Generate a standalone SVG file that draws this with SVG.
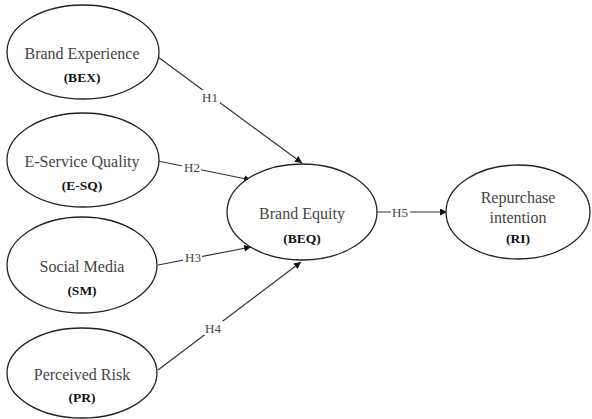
<svg xmlns="http://www.w3.org/2000/svg" width="592" height="419" viewBox="0 0 592 419">
<style>
.node ellipse{fill:#fff;stroke:#222;stroke-width:1.3}
.edge line{stroke:#333;stroke-width:1.2}
.lbg{fill:#fff}
</style>
<defs>
<marker id="ah" viewBox="0 0 10 10" refX="10" refY="5" markerWidth="7" markerHeight="7" markerUnits="userSpaceOnUse" orient="auto">
<path d="M0,0 L10,5 L0,10 z" fill="#111"/>
</marker>
</defs>
<rect width="592" height="419" fill="#fff"/>
<g id="connectors" class="edge">
<line x1="158" y1="57" x2="302" y2="163" marker-end="url(#ah)"/>
<line x1="158" y1="161" x2="251" y2="180" marker-end="url(#ah)"/>
<line x1="158" y1="265" x2="251" y2="247" marker-end="url(#ah)"/>
<line x1="158" y1="370" x2="301" y2="262" marker-end="url(#ah)"/>
<line x1="377" y1="212" x2="447" y2="212" marker-end="url(#ah)"/>
<rect class="lbg" x="201" y="90" width="19" height="14"/>
<text x="210" y="102" style="font-family:'Liberation Serif','Times New Roman',serif;font-size:13px;fill:#444;text-anchor:middle">H1</text>
<rect class="lbg" x="182" y="160" width="19" height="14"/>
<text x="192" y="172" style="font-family:'Liberation Serif','Times New Roman',serif;font-size:13px;fill:#444;text-anchor:middle">H2</text>
<rect class="lbg" x="183" y="250" width="19" height="14"/>
<text x="193" y="262" style="font-family:'Liberation Serif','Times New Roman',serif;font-size:13px;fill:#444;text-anchor:middle">H3</text>
<rect class="lbg" x="204" y="321" width="19" height="14"/>
<text x="213" y="333" style="font-family:'Liberation Serif','Times New Roman',serif;font-size:13px;fill:#444;text-anchor:middle">H4</text>
<rect class="lbg" x="391" y="205" width="19" height="14"/>
<text x="400" y="217" style="font-family:'Liberation Serif','Times New Roman',serif;font-size:13px;fill:#444;text-anchor:middle">H5</text>
</g>
<g id="BEX" class="node">
<ellipse cx="83" cy="52" rx="76" ry="47"/>
<text x="82" y="59" style="font-family:'Liberation Serif','Times New Roman',serif;font-size:16px;fill:#444;text-anchor:middle">Brand Experience</text>
<text x="82" y="82" style="font-family:'Liberation Serif','Times New Roman',serif;font-size:13.5px;font-weight:bold;fill:#111;text-anchor:middle">(BEX)</text>
</g>
<g id="ESQ" class="node">
<ellipse cx="83" cy="160" rx="76" ry="47"/>
<text x="82" y="167" style="font-family:'Liberation Serif','Times New Roman',serif;font-size:16px;fill:#444;text-anchor:middle">E-Service Quality</text>
<text x="82" y="190" style="font-family:'Liberation Serif','Times New Roman',serif;font-size:13.5px;font-weight:bold;fill:#111;text-anchor:middle">(E-SQ)</text>
</g>
<g id="SM" class="node">
<ellipse cx="82" cy="265" rx="75" ry="48"/>
<text x="82" y="272" style="font-family:'Liberation Serif','Times New Roman',serif;font-size:16px;fill:#444;text-anchor:middle">Social Media</text>
<text x="82" y="295" style="font-family:'Liberation Serif','Times New Roman',serif;font-size:13.5px;font-weight:bold;fill:#111;text-anchor:middle">(SM)</text>
</g>
<g id="PR" class="node">
<ellipse cx="82" cy="373" rx="75" ry="45"/>
<text x="82" y="380" style="font-family:'Liberation Serif','Times New Roman',serif;font-size:16px;fill:#444;text-anchor:middle">Perceived Risk</text>
<text x="82" y="402" style="font-family:'Liberation Serif','Times New Roman',serif;font-size:13.5px;font-weight:bold;fill:#111;text-anchor:middle">(PR)</text>
</g>
<g id="BEQ" class="node">
<ellipse cx="302" cy="212" rx="75" ry="48"/>
<text x="302" y="219" style="font-family:'Liberation Serif','Times New Roman',serif;font-size:16px;fill:#444;text-anchor:middle">Brand Equity</text>
<text x="302" y="243" style="font-family:'Liberation Serif','Times New Roman',serif;font-size:13.5px;font-weight:bold;fill:#111;text-anchor:middle">(BEQ)</text>
</g>
<g id="RI" class="node">
<ellipse cx="518" cy="212" rx="72" ry="47"/>
<text x="518" y="203" style="font-family:'Liberation Serif','Times New Roman',serif;font-size:16px;fill:#444;text-anchor:middle">Repurchase</text>
<text x="518" y="223" style="font-family:'Liberation Serif','Times New Roman',serif;font-size:16px;fill:#444;text-anchor:middle">intention</text>
<text x="518" y="243" style="font-family:'Liberation Serif','Times New Roman',serif;font-size:13.5px;font-weight:bold;fill:#111;text-anchor:middle">(RI)</text>
</g>
</svg>
